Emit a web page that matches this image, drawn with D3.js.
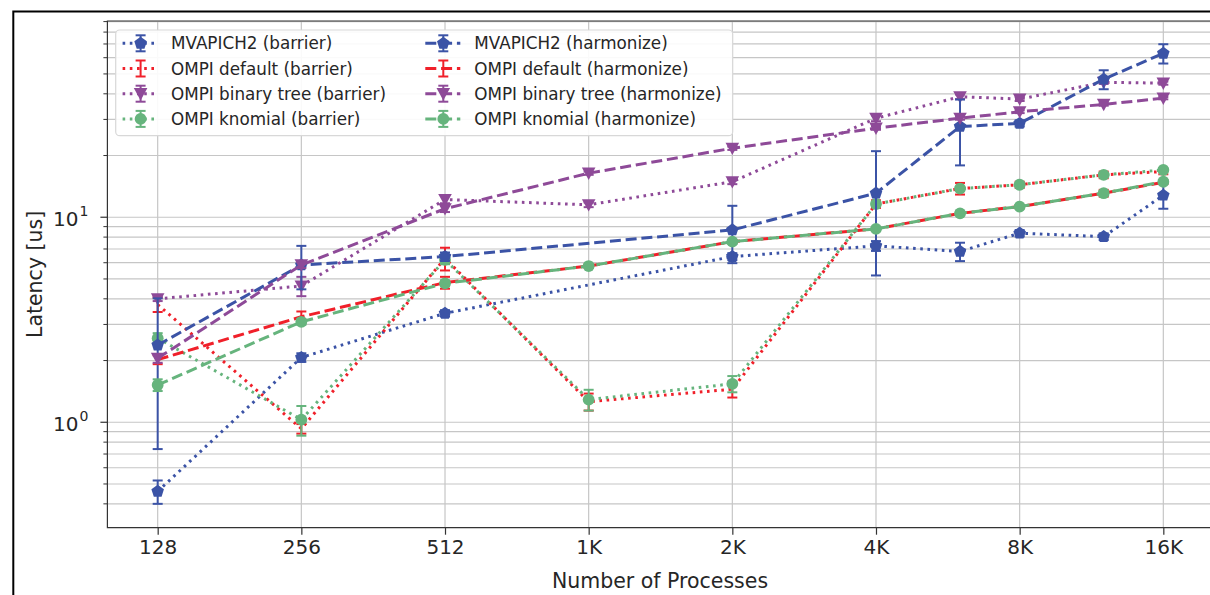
<!DOCTYPE html>
<html>
<head>
<meta charset="utf-8">
<script src="https://cdn.jsdelivr.net/npm/d3@7"></script>
<style>
  html, body { margin: 0; padding: 0; background: #fff; }
  svg { display: block; font-family: "DejaVu Sans", sans-serif; }
</style>
</head>
<body>
<svg id="chart" width="1210" height="595"></svg>
<script>
// Process counts measured (6K and 12K are extra points without a tick label)
const processes = [128, 256, 512, 1024, 2048, 4096, 6144, 8192, 12288, 16384];
const xTickValues = [128, 256, 512, 1024, 2048, 4096, 8192, 16384];
const xTickLabels = ["128", "256", "512", "1K", "2K", "4K", "8K", "16K"];
const yMajorTicks = [1, 10];
const yMajorExponents = ["0", "1"];

// Latency in microseconds (null = not measured) and error bar half-widths
const mvapichBarrier      = [0.46, 2.07, 3.40, null, 6.43, 7.25, 6.81, 8.36, 8.04, 12.8];
const mvapichBarrierErr   = [0.06, 0.10, 0.12, null, 0.25, 0.40, 0.70, 0.30, 0.30, 1.80];
const defaultBarrier      = [3.75, 0.93, 6.30, 1.26, 1.45, 11.6, 13.8, 14.4, 16.1, 16.7];
const defaultBarrierErr   = [0.30, 0.05, 0.80, 0.12, 0.13, 0.50, 0.90, 0.50, 0.60, 0.50];
const binaryBarrier       = [4.00, 4.62, 12.2, 11.5, 14.9, 30.4, 38.7, 37.7, 45.5, 45.1];
const binaryBarrierErr    = [0.10, 0.50, 0.50, 0.30, 0.40, 1.00, 1.00, 0.80, 0.80, 0.80];
const knomialBarrier      = [2.57, 1.03, 6.20, 1.29, 1.54, 11.6, 13.8, 14.4, 16.1, 17.0];
const knomialBarrierErr   = [0.15, 0.17, 0.30, 0.15, 0.14, 0.30, 0.30, 0.20, 0.30, 0.30];

const mvapichHarmonize    = [2.38, 5.85, 6.43, null, 8.67, 13.1, 27.7, 28.7, 47.1, 63.0];
const mvapichHarmonizeErr = [1.64, 1.40, 0.30, null, 2.70, 7.90, 9.80, 1.00, 5.00, 6.80];
const defaultHarmonize    = [2.02, 3.27, 4.80, 5.78, 7.60, 8.77, 10.45, 11.27, 13.1, 14.8];
const defaultHarmonizeErr = [0.10, 0.20, 0.32, 0.10, 0.15, 0.20, 0.20, 0.20, 0.50, 0.30];
const binaryHarmonize     = [2.05, 5.85, 11.0, 16.4, 21.7, 27.2, 30.4, 32.7, 35.5, 38.1];
const binaryHarmonizeErr  = [0.10, 0.20, 0.40, 0.30, 0.40, 0.50, 0.50, 0.50, 0.50, 0.50];
const knomialHarmonize    = [1.52, 3.09, 4.76, 5.78, 7.60, 8.77, 10.45, 11.27, 13.1, 14.9];
const knomialHarmonizeErr = [0.10, 0.10, 0.15, 0.10, 0.15, 0.15, 0.20, 0.20, 0.30, 0.30];

const seriesNames = [
  "MVAPICH2 (barrier)", "OMPI default (barrier)", "OMPI binary tree (barrier)", "OMPI knomial (barrier)",
  "MVAPICH2 (harmonize)", "OMPI default (harmonize)", "OMPI binary tree (harmonize)", "OMPI knomial (harmonize)"
];

const COLORS = { blue: "#3b53a6", red: "#f0202a", purple: "#8e4a98", green: "#66b47d" };
const DOTTED = "2.6,4.6";
const DASHED = "11,4.8";

const series = [
  { name: seriesNames[0], values: mvapichBarrier,   err: mvapichBarrierErr,   color: COLORS.blue,   dash: DOTTED, marker: "pentagon" },
  { name: seriesNames[1], values: defaultBarrier,   err: defaultBarrierErr,   color: COLORS.red,    dash: DOTTED, marker: null },
  { name: seriesNames[2], values: binaryBarrier,    err: binaryBarrierErr,    color: COLORS.purple, dash: DOTTED, marker: "tridown" },
  { name: seriesNames[3], values: knomialBarrier,   err: knomialBarrierErr,   color: COLORS.green,  dash: DOTTED, marker: "circle" },
  { name: seriesNames[4], values: mvapichHarmonize, err: mvapichHarmonizeErr, color: COLORS.blue,   dash: DASHED, marker: "pentagon" },
  { name: seriesNames[5], values: defaultHarmonize, err: defaultHarmonizeErr, color: COLORS.red,    dash: DASHED, marker: null },
  { name: seriesNames[6], values: binaryHarmonize,  err: binaryHarmonizeErr,  color: COLORS.purple, dash: DASHED, marker: "tridown" },
  { name: seriesNames[7], values: knomialHarmonize, err: knomialHarmonizeErr, color: COLORS.green,  dash: DASHED, marker: "circle" }
];

const svg = d3.select("#chart");
const plot = { left: 107.4, right: 1213.6, top: 21, bottom: 527.7 };

// Figure frame
svg.append("path")
  .attr("d", "M13.3,595 L13.3,11.6 L1210,11.6")
  .attr("fill", "none").attr("stroke", "#000").attr("stroke-width", 2);

const x = d3.scaleLog().base(2)
  .domain([Math.pow(2, 6.65), Math.pow(2, 14.35)])
  .range([plot.left, plot.right]);
const y = d3.scaleLog()
  .domain([0.306, 90.6])
  .range([plot.bottom, plot.top]);

// Grid (major + minor for y, major for x)
const yMinor = [];
for (let e = -1; e <= 1; e++) {
  for (let m = 1; m <= 9; m++) {
    const v = m * Math.pow(10, e);
    if (v >= y.domain()[0] && v <= y.domain()[1]) yMinor.push(v);
  }
}
const grid = svg.append("g").attr("stroke", "#c6c6c6").attr("stroke-width", 1.2);
grid.selectAll("line.gy").data(yMinor).join("line")
  .attr("x1", plot.left).attr("x2", plot.right)
  .attr("y1", d => y(d)).attr("y2", d => y(d));
grid.selectAll("line.gx").data(xTickValues).join("line")
  .attr("y1", plot.top).attr("y2", plot.bottom)
  .attr("x1", d => x(d)).attr("x2", d => x(d));

// Axes
const xAxis = d3.axisBottom(x).tickValues(xTickValues)
  .tickFormat((d, i) => xTickLabels[i]).tickSize(7).tickPadding(5);
const gx = svg.append("g").attr("transform", `translate(0,${plot.bottom})`).call(xAxis);
gx.select(".domain").remove();
gx.selectAll(".tick line").attr("stroke", "#333").attr("stroke-width", 1.2);
gx.selectAll(".tick text").attr("font-size", 20).attr("fill", "#262626")
  .attr("font-family", "DejaVu Sans");

const gy = svg.append("g");
gy.selectAll("line.minor").data(yMinor.filter(v => !yMajorTicks.includes(v))).join("line")
  .attr("x1", plot.left - 4).attr("x2", plot.left)
  .attr("y1", d => y(d)).attr("y2", d => y(d))
  .attr("stroke", "#333").attr("stroke-width", 1);
gy.selectAll("line.major").data(yMajorTicks).join("line")
  .attr("x1", plot.left - 7).attr("x2", plot.left)
  .attr("y1", d => y(d)).attr("y2", d => y(d))
  .attr("stroke", "#333").attr("stroke-width", 1.2);
const yl = gy.selectAll("text.ylab").data(yMajorTicks).join("text")
  .attr("x", 53).attr("y", d => y(d) + 8.5)
  .attr("font-size", 20).attr("fill", "#262626");
yl.append("tspan").text("10");
yl.append("tspan").attr("dy", -9.5).attr("dx", 1).attr("font-size", 14)
  .text((d, i) => yMajorExponents[i]);

// Spines
svg.append("path")
  .attr("d", `M${plot.left},${plot.top} L${plot.left},${plot.bottom} L${plot.right},${plot.bottom} L${plot.right},${plot.top} Z`)
  .attr("fill", "none").attr("stroke", "#333").attr("stroke-width", 1.2);

// Axis titles
svg.append("text").attr("x", 660).attr("y", 588.3).attr("text-anchor", "middle")
  .attr("font-size", 20.5).attr("fill", "#262626").text("Number of Processes");
svg.append("text").attr("transform", "translate(41.7,274.4) rotate(-90)")
  .attr("text-anchor", "middle").attr("font-size", 20.5).attr("fill", "#262626")
  .text("Latency [us]");

// Marker shapes
function markerPath(kind) {
  if (kind === "pentagon") {
    const r = 6.6;
    const pts = d3.range(5).map(k => {
      const a = -Math.PI / 2 + k * 2 * Math.PI / 5;
      return [r * Math.cos(a), r * Math.sin(a)];
    });
    return "M" + pts.map(p => p.join(",")).join("L") + "Z";
  }
  if (kind === "tridown") return "M-6.8,-5.6L6.8,-5.6L0,6.8Z";
  if (kind === "circle") return d3.symbol(d3.symbolCircle, 110)();
  return null;
}

const dataLayer = svg.append("g");
series.forEach(s => {
  const pts = processes.map((p, i) => ({ p, v: s.values[i], e: s.err[i] }))
    .filter(d => d.v !== null);
  const g = dataLayer.append("g");
  g.append("path")
    .attr("d", d3.line().x(d => x(d.p)).y(d => y(d.v))(pts))
    .attr("fill", "none").attr("stroke", s.color).attr("stroke-width", 3)
    .attr("stroke-dasharray", s.dash);
  const eb = g.selectAll("g.eb").data(pts).join("g").attr("stroke", s.color).attr("stroke-width", 2);
  eb.append("line")
    .attr("x1", d => x(d.p)).attr("x2", d => x(d.p))
    .attr("y1", d => y(d.v + d.e)).attr("y2", d => y(Math.max(d.v - d.e, 0.01)));
  eb.append("line")
    .attr("x1", d => x(d.p) - 5).attr("x2", d => x(d.p) + 5)
    .attr("y1", d => y(d.v + d.e)).attr("y2", d => y(d.v + d.e));
  eb.append("line")
    .attr("x1", d => x(d.p) - 5).attr("x2", d => x(d.p) + 5)
    .attr("y1", d => y(d.v - d.e)).attr("y2", d => y(d.v - d.e));
  if (s.marker) {
    g.selectAll("path.m").data(pts).join("path")
      .attr("d", markerPath(s.marker))
      .attr("transform", d => `translate(${x(d.p)},${y(d.v)})`)
      .attr("fill", s.color);
  }
});

// Legend (two columns: barrier, harmonize)
const legend = svg.append("g");
legend.append("rect")
  .attr("x", 115.7).attr("y", 30).attr("width", 617).attr("height", 105.7)
  .attr("rx", 4).attr("fill", "#fff").attr("fill-opacity", 0.9)
  .attr("stroke", "#d8d8d8").attr("stroke-width", 1.2);
series.forEach((s, i) => {
  const col = Math.floor(i / 4), row = i % 4;
  const cx = col === 0 ? 140.6 : 443.3;
  const cy = 43.3 + row * 25.2;
  const g = legend.append("g");
  g.append("line").attr("x1", cx - 18).attr("x2", cx + 17).attr("y1", cy).attr("y2", cy)
    .attr("stroke", s.color).attr("stroke-width", 3).attr("stroke-dasharray", s.dash);
  g.append("line").attr("x1", cx).attr("x2", cx).attr("y1", cy - 8).attr("y2", cy + 8)
    .attr("stroke", s.color).attr("stroke-width", 2);
  [cy - 8, cy + 8].forEach(yy => g.append("line")
    .attr("x1", cx - 5).attr("x2", cx + 5).attr("y1", yy).attr("y2", yy)
    .attr("stroke", s.color).attr("stroke-width", 2));
  if (s.marker) {
    g.append("path").attr("d", markerPath(s.marker))
      .attr("transform", `translate(${cx},${cy})`).attr("fill", s.color);
  }
  g.append("text").attr("x", col === 0 ? 171 : 474.3).attr("y", cy + 6)
    .attr("font-size", 16.8).attr("fill", "#262626").text(s.name);
});
</script>
</body>
</html>
